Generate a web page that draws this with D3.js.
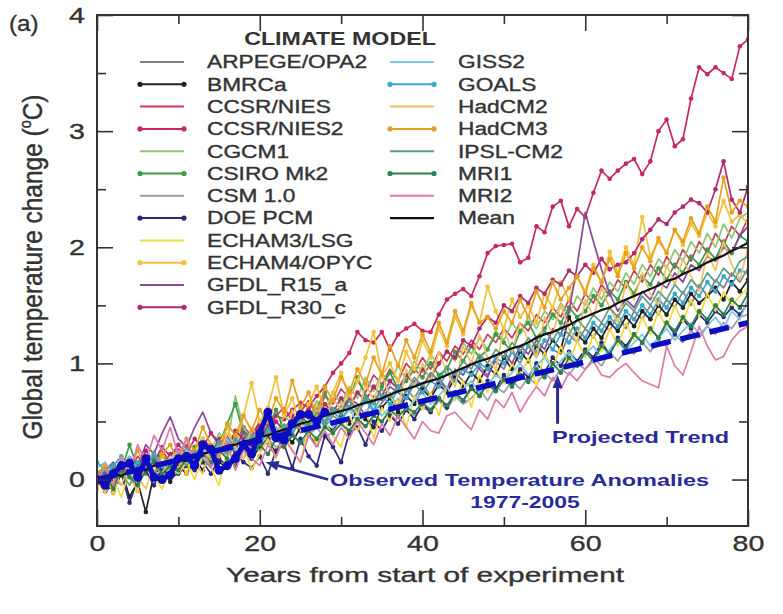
<!DOCTYPE html>
<html>
<head>
<meta charset="utf-8">
<script src="https://cdn.jsdelivr.net/npm/d3@7"></script>
<style>
  body { margin: 0; background: #fff; }
  text { stroke-width: 0.35px; }
</style>
</head>
<body>
<div id="chart"></div>
<script>
// years from start of experiment
var years = d3.range(0, 81);

var modelNames = ["ARPEGE/OPA2", "BMRCa", "CCSR/NIES", "CCSR/NIES2", "CGCM1", "CSIRO Mk2",
  "CSM 1.0", "DOE PCM", "ECHAM3/LSG", "ECHAM4/OPYC", "GFDL_R15_a", "GFDL_R30_c",
  "GISS2", "GOALS", "HadCM2", "HadCM3", "IPSL-CM2", "MRI1", "MRI2", "Mean"];
var modelColors = ["#8a7d85", "#222222", "#d23a5c", "#c8285a", "#8cc870", "#3c9a48",
  "#a09aaa", "#2c2a78", "#eedc3a", "#f2c23a", "#8a4a9a", "#b02a70",
  "#78c8e8", "#3aa8c8", "#f2c060", "#e8a020", "#5aa088", "#2a8050", "#e07aa8", "#111111"];
var modelMarkers = [false, true, false, true, false, true, false, true, false, true, false, true,
  false, true, false, true, false, true, false, false];

var arpege = [0.05,-0.08,0.10,0.02,0.15,-0.02,0.12,0.20,0.05,0.18,
  0.10,0.25,0.15,0.30,0.18,0.35,0.22,0.28,0.40,0.25,
  0.38,0.30,0.45,0.35,0.52,0.40,0.48,0.58,0.45,0.55,
  0.50,0.62,0.55,0.70,0.58,0.66,0.75,0.60,0.78,0.70,
  0.82,0.72,0.88,0.78,0.92,0.85,0.80,0.98,0.90,1.02,
  0.95,1.10,1.00,1.15,1.05,1.20,1.12,1.08,1.25,1.18,
  1.30,1.22,1.35,1.28,1.42,1.30,1.45,1.38,1.50,1.42,
  1.55,1.48,1.62,1.50,1.68,1.58,1.72,1.65,1.78,1.70,1.82];
var bmrca = [0.00,-0.10,-0.05,0.08,-0.15,-0.02,-0.28,0.05,0.10,-0.02,
  0.12,0.05,0.18,0.08,0.22,0.15,0.10,0.25,0.30,0.18,
  0.28,0.35,0.22,0.40,0.32,0.45,0.38,0.30,0.48,0.42,
  0.55,0.48,0.60,0.52,0.45,0.62,0.70,0.58,0.72,0.65,
  0.78,0.70,0.82,0.75,0.88,0.80,0.92,0.85,0.98,0.90,
  1.05,0.95,1.10,1.02,1.15,1.08,1.20,1.12,1.40,1.25,
  1.18,1.30,1.22,1.35,1.28,1.40,1.32,1.45,1.38,1.50,
  1.42,1.55,1.48,1.60,1.52,1.58,1.65,1.55,1.70,1.62,1.72];
var ccsr = [0.02,0.10,-0.05,0.15,0.08,0.20,0.12,0.05,0.25,0.15,
  0.22,0.30,0.18,0.35,0.28,0.20,0.38,0.32,0.45,0.36,
  0.48,0.40,0.55,0.62,0.50,0.58,0.68,0.55,0.72,0.65,
  0.78,0.70,0.85,0.75,0.90,0.82,0.95,0.85,1.00,0.92,
  1.05,0.95,1.10,1.02,1.15,1.08,1.20,1.12,1.25,1.18,
  1.30,1.22,1.35,1.28,1.42,1.35,1.48,1.40,1.55,1.45,
  1.60,1.52,1.68,1.58,1.72,1.65,1.80,1.70,1.85,1.76,
  1.92,1.82,1.98,1.88,2.05,1.95,2.12,2.02,2.18,2.10,2.25];
var ccsr2 = [0.02,-0.05,0.10,0.05,0.15,0.12,0.20,0.18,0.10,0.22,
  0.25,0.18,0.28,0.30,0.22,0.35,0.32,0.40,0.45,0.38,
  0.50,0.48,0.55,0.52,0.60,0.66,0.62,0.72,0.80,0.92,
  1.00,1.09,1.27,1.20,1.18,1.27,1.12,1.25,1.30,1.34,
  1.28,1.27,1.42,1.55,1.60,1.64,1.58,1.75,1.95,2.01,
  2.02,2.03,1.87,1.91,2.18,2.13,2.35,2.40,2.18,2.33,
  2.26,2.47,2.66,2.59,2.66,2.72,2.76,2.63,2.74,3.00,
  3.10,2.87,2.93,3.28,3.55,3.49,3.55,3.50,3.45,3.73,3.79];
var cgcm1 = [-0.05,0.05,0.10,0.02,0.18,0.08,0.12,0.25,0.10,0.20,
  0.15,0.28,0.20,0.32,0.25,0.40,0.30,0.72,0.45,0.35,
  0.42,0.50,0.38,0.55,0.48,0.62,0.52,0.68,0.58,0.75,
  0.65,0.80,0.70,0.88,0.76,0.92,0.82,0.98,0.86,1.02,
  0.92,1.08,0.98,1.12,1.02,1.18,1.08,1.22,1.12,1.28,
  1.20,1.35,1.25,1.40,1.30,1.45,1.38,1.52,1.42,1.58,
  1.50,1.65,1.55,1.70,1.62,1.78,1.68,1.85,1.75,1.90,
  1.82,1.98,1.88,2.05,1.95,2.12,2.00,2.20,2.08,2.25,2.30];
var csiro = [0.05,0.12,-0.02,0.08,0.30,0.10,0.05,0.18,0.22,0.12,
  0.20,0.15,0.28,0.35,0.22,0.30,0.48,0.65,0.40,0.32,
  0.38,0.45,0.60,0.42,0.50,0.55,0.48,0.62,0.75,0.58,
  0.62,0.70,0.88,0.72,0.65,0.80,0.92,0.78,0.85,0.95,
  0.88,1.00,0.90,0.95,1.10,1.02,1.15,1.05,1.12,1.25,
  1.18,1.10,1.28,1.35,1.22,1.30,1.42,1.35,1.48,1.40,
  1.45,1.58,1.50,1.62,1.55,1.70,1.60,1.75,1.68,1.82,
  1.72,1.85,1.78,1.92,1.85,1.98,1.90,2.05,1.95,2.10,2.05];
var csm = [0.00,0.08,0.02,-0.05,0.10,0.05,0.15,0.08,0.02,0.12,
  0.18,0.10,0.15,0.22,0.12,0.25,0.20,0.28,0.18,0.30,
  0.25,0.35,0.28,0.32,0.40,0.30,0.38,0.45,0.35,0.42,
  0.48,0.40,0.52,0.45,0.55,0.50,0.58,0.48,0.60,0.55,
  0.62,0.58,0.68,0.60,0.72,0.65,0.70,0.78,0.68,0.80,
  0.75,0.85,0.78,0.88,0.82,0.92,0.85,0.95,0.90,1.00,
  0.95,1.05,0.98,1.10,1.02,1.12,1.08,1.18,1.10,1.20,
  1.15,1.25,1.18,1.28,1.22,1.32,1.25,1.35,1.30,1.40,1.42];
var doepcm = [-0.05,0.02,-0.10,0.05,-0.20,0.00,0.08,-0.05,0.10,0.02,
  0.05,0.12,0.08,0.15,0.05,0.18,0.12,0.22,0.15,0.10,
  0.20,0.05,0.25,0.30,0.10,0.35,0.20,0.12,0.38,0.28,
  0.15,0.40,0.45,0.30,0.50,0.42,0.55,0.48,0.60,0.52,
  0.65,0.58,0.70,0.62,0.75,0.68,0.80,0.72,0.85,0.78,
  0.90,0.82,0.95,0.88,1.00,0.92,1.05,0.98,1.10,1.02,
  1.12,1.05,1.18,1.08,1.22,1.15,1.25,1.18,1.30,1.22,
  1.35,1.25,1.38,1.30,1.42,1.35,1.45,1.40,1.48,1.42,1.52];
var echam3 = [0.05,-0.10,0.00,-0.15,0.08,-0.05,0.12,0.02,-0.08,0.10,
  0.05,0.15,0.00,0.20,0.10,-0.05,0.25,0.15,0.30,0.08,
  0.22,0.35,0.18,0.40,0.25,0.15,0.45,0.30,0.50,0.38,
  0.28,0.55,0.42,0.60,0.35,0.62,0.50,0.68,0.45,0.72,
  0.60,0.75,0.55,0.80,0.68,0.85,0.62,0.90,0.75,0.95,
  0.82,1.00,0.88,1.05,0.80,1.10,0.95,1.15,1.00,1.20,
  1.05,1.25,1.10,1.30,1.15,1.35,1.20,1.40,1.25,1.45,
  1.30,1.50,1.35,1.55,1.40,1.60,1.45,1.62,1.50,1.58,1.65];
var echam4 = [-0.08,0.05,-0.12,0.10,0.02,-0.10,0.15,0.05,0.20,0.10,
  0.18,0.05,0.25,0.35,0.15,0.30,0.45,0.28,0.55,0.83,
  0.50,0.62,0.88,0.55,0.70,0.45,0.65,0.80,0.60,0.75,
  0.92,0.70,0.85,1.05,1.27,0.90,1.00,0.85,1.10,0.95,
  1.20,1.05,1.30,1.15,1.40,1.25,1.50,1.35,1.66,1.45,
  1.30,1.55,1.40,1.50,1.35,1.60,1.48,1.70,1.55,1.75,
  1.62,1.85,1.70,1.96,1.78,2.00,1.85,2.26,1.92,2.05,
  1.95,2.15,2.02,2.20,2.10,2.30,2.18,2.40,2.22,2.28,2.20];
var gfdl15 = [0.00,0.08,0.15,0.05,0.20,0.12,0.30,0.22,0.40,0.54,
  0.35,0.28,0.45,0.58,0.40,0.30,0.38,0.25,0.42,0.35,
  0.30,0.48,0.40,0.35,0.52,0.45,0.38,0.55,0.50,0.62,
  0.58,0.70,0.65,0.55,0.72,0.68,0.80,0.75,0.70,0.85,
  0.80,0.92,0.85,0.78,0.95,0.90,1.02,0.95,0.88,1.05,
  1.10,1.00,1.15,1.08,1.20,1.12,1.30,1.25,1.45,1.84,
  2.30,2.05,1.81,1.60,1.45,1.55,1.48,1.62,1.55,1.70,
  1.65,1.78,1.70,1.85,1.80,1.92,1.88,2.00,1.95,2.10,2.18];
var gfdl30 = [0.02,-0.05,0.10,0.05,0.18,0.08,0.25,0.15,0.28,0.20,
  0.30,0.22,0.35,0.28,0.40,0.32,0.25,0.42,0.35,0.30,
  0.45,0.38,0.50,0.42,0.55,0.48,0.60,0.52,0.65,0.58,
  0.70,0.62,0.75,0.68,0.80,0.72,0.85,0.78,0.90,0.82,
  0.95,0.88,1.00,1.10,1.05,1.20,1.15,1.30,1.40,1.35,
  1.50,1.45,1.58,1.52,1.65,1.60,1.72,1.68,1.80,1.75,
  1.85,1.78,1.90,1.81,1.85,1.87,1.95,2.07,2.15,2.24,
  2.20,2.30,2.35,2.41,2.38,2.30,2.50,2.74,2.41,2.30,2.52];
var giss2 = [0.10,0.15,0.05,0.12,0.20,0.08,0.15,0.22,0.10,0.18,
  0.25,0.15,0.22,0.30,0.20,0.28,0.35,0.25,0.32,0.40,
  0.30,0.38,0.45,0.35,0.42,0.50,0.40,0.48,0.55,0.45,
  0.52,0.60,0.50,0.58,0.65,0.55,0.62,0.70,0.60,0.68,
  0.75,0.65,0.72,0.80,0.70,0.78,0.85,0.75,0.82,0.90,
  0.85,0.92,1.00,0.90,0.98,1.05,0.95,1.02,1.10,1.00,
  1.08,1.15,1.05,1.12,1.20,1.10,1.18,1.25,1.15,1.22,
  1.30,1.20,1.28,1.35,1.25,1.32,1.40,1.30,1.45,1.38,1.55];
var goals = [0.15,0.08,0.12,0.20,0.05,0.15,0.10,0.22,0.12,0.18,
  0.15,0.25,0.18,0.28,0.22,0.32,0.25,0.35,0.30,0.38,
  0.32,0.42,0.38,0.45,0.40,0.50,0.44,0.55,0.48,0.58,
  0.52,0.62,0.58,0.68,0.60,0.72,0.65,0.78,0.70,0.82,
  0.75,0.85,0.80,0.92,0.85,0.95,0.90,1.00,0.95,1.05,
  1.00,1.10,1.05,1.15,1.10,1.20,1.12,1.25,1.18,1.30,
  1.22,1.35,1.28,1.40,1.32,1.45,1.38,1.50,1.42,1.55,
  1.48,1.60,1.52,1.65,1.58,1.70,1.62,1.75,1.68,1.80,1.78];
var hadcm2 = [0.00,-0.12,0.08,-0.05,0.15,0.02,-0.08,0.12,0.05,0.20,
  0.10,0.25,0.15,0.05,0.30,0.20,0.40,0.28,0.18,0.45,
  0.35,0.55,0.40,0.30,0.60,0.48,0.38,0.65,0.52,0.70,
  0.60,0.78,0.55,0.82,0.68,0.90,0.72,0.62,0.95,0.80,
  1.00,0.85,1.10,0.92,0.80,1.15,1.00,1.25,1.05,0.95,
  1.30,1.10,1.35,1.20,1.05,1.40,1.25,1.50,1.30,1.18,
  1.55,1.40,1.65,1.48,1.35,1.70,1.55,1.78,1.60,1.50,
  1.85,1.68,1.90,1.75,1.62,1.95,1.80,2.05,1.85,1.72,2.00];
var hadcm3 = [0.05,0.12,-0.05,0.18,0.08,0.25,0.10,0.02,0.22,0.30,
  0.15,0.35,0.25,0.45,0.30,0.20,0.48,0.38,0.55,0.42,
  0.60,0.50,0.70,0.58,0.85,0.62,0.75,0.55,0.80,0.68,
  0.88,0.75,0.95,0.82,1.05,0.90,1.15,0.98,1.20,1.05,
  1.25,1.10,1.35,1.18,1.45,1.28,1.52,1.35,1.40,1.30,
  1.45,1.35,1.55,1.40,1.62,1.48,1.70,1.55,1.65,1.75,
  1.60,1.82,1.70,1.90,1.75,1.95,1.82,2.00,1.88,2.08,
  1.95,2.15,2.05,2.25,2.12,2.35,2.22,2.60,2.30,2.40,2.35];
var ipsl = [0.08,0.00,0.12,0.05,-0.05,0.10,0.18,0.05,0.15,0.08,
  0.20,0.12,0.25,0.18,0.10,0.28,0.22,0.35,0.25,0.38,
  0.30,0.42,0.35,0.48,0.40,0.52,0.45,0.58,0.50,0.62,
  0.55,0.68,0.60,0.72,0.65,0.78,0.70,0.82,0.75,0.88,
  0.80,0.92,0.85,0.98,0.90,1.02,0.95,1.08,1.00,1.12,
  1.05,1.18,1.10,1.22,1.15,1.28,1.20,1.32,1.25,1.38,
  1.30,1.42,1.35,1.48,1.40,1.52,1.45,1.58,1.50,1.62,
  1.55,1.68,1.60,1.72,1.65,1.78,1.70,1.82,1.75,1.88,1.92];
var mri1 = [0.00,0.05,-0.08,0.10,0.02,-0.05,0.08,0.15,0.05,0.12,
  0.08,0.18,0.10,0.22,0.15,0.25,0.18,0.12,0.28,0.20,
  0.30,0.22,0.35,0.28,0.38,0.32,0.42,0.35,0.45,0.40,
  0.48,0.42,0.52,0.46,0.55,0.50,0.60,0.54,0.62,0.58,
  0.66,0.60,0.70,0.64,0.74,0.68,0.78,0.72,0.82,0.76,
  0.86,0.80,0.90,0.84,0.95,0.88,1.00,0.92,1.05,0.98,
  1.10,1.02,1.15,1.08,1.20,1.12,1.25,1.18,1.30,1.22,
  1.35,1.28,1.40,1.32,1.45,1.38,1.50,1.42,1.55,1.48,1.60];
var mri2 = [0.00,0.10,-0.05,0.20,0.05,0.30,0.15,0.38,0.25,0.45,
  0.20,0.35,0.15,0.28,0.10,0.22,0.32,0.08,0.25,0.18,
  0.12,0.30,0.20,0.35,0.25,0.15,0.38,0.28,0.42,0.30,
  0.45,0.35,0.50,0.40,0.30,0.48,0.38,0.55,0.45,0.35,
  0.50,0.42,0.40,0.55,0.58,0.50,0.43,0.60,0.52,0.69,
  0.62,0.75,0.58,0.70,0.80,0.72,0.88,0.78,0.92,0.85,
  0.95,1.02,0.90,0.88,0.95,1.00,0.92,0.85,0.82,0.79,
  1.15,0.98,0.90,1.10,1.32,1.15,1.03,1.06,1.20,1.28,1.32];
var meanVals = [0.00,0.02,0.05,0.03,0.07,0.09,0.08,0.12,0.13,0.15,
  0.17,0.16,0.20,0.22,0.24,0.26,0.29,0.30,0.33,0.34,
  0.37,0.38,0.41,0.43,0.45,0.48,0.50,0.53,0.55,0.57,
  0.59,0.61,0.64,0.66,0.68,0.70,0.73,0.76,0.78,0.80,
  0.83,0.85,0.87,0.90,0.93,0.96,0.99,1.02,1.04,1.07,
  1.10,1.13,1.15,1.18,1.22,1.25,1.27,1.30,1.33,1.37,
  1.40,1.43,1.46,1.48,1.52,1.55,1.58,1.61,1.64,1.67,
  1.71,1.73,1.77,1.80,1.83,1.87,1.90,1.93,1.97,2.00,2.04];

// observed anomalies 1977-2005 (years 0..28)
var obsYears = d3.range(0, 29);
var obsVals = [0.00,-0.05,0.05,0.12,0.14,0.02,0.18,0.02,0.00,0.04,
  0.18,0.20,0.12,0.30,0.26,0.08,0.12,0.18,0.30,0.22,
  0.40,0.58,0.36,0.34,0.48,0.56,0.56,0.50,0.58];

// projected trend end points
var trendYears = [0, 80];
var trendVals = [0, 1.35];

var modelSeries = [arpege, bmrca, ccsr, ccsr2, cgcm1, csiro, csm, doepcm, echam3, echam4,
  gfdl15, gfdl30, giss2, goals, hadcm2, hadcm3, ipsl, mri1, mri2, meanVals];

var W = 783, H = 614;
var ink = "#333333", blue = "#0c0cc4", noteBlue = "#2a2a9c";

var svg = d3.select("#chart").append("svg")
    .attr("width", W).attr("height", H)
    .style("font-family", "'Liberation Sans', Arial, Helvetica, sans-serif");
svg.append("rect").attr("width", W).attr("height", H).attr("fill", "#fff");

var x = d3.scaleLinear().domain([0, 80]).range([97, 748]);
var y = d3.scaleLinear().domain([-0.4, 4]).range([526, 15]);

// horizontally widened text, as in the original figure
function wide(g, tx, ty, k, str) {
  return g.append("text")
    .attr("transform", "translate(" + tx + "," + ty + ") scale(" + k + ",1)")
    .text(str);
}

svg.append("clipPath").attr("id", "plotclip")
  .append("rect").attr("x", 97).attr("y", 15).attr("width", 651).attr("height", 511);

var plot = svg.append("g").attr("clip-path", "url(#plotclip)");

var line = d3.line()
    .x(function(d, i) { return x(years[i]); })
    .y(function(d) { return y(d); });

modelSeries.forEach(function(vals, m) {
  if (m === 19) return;
  plot.append("path")
    .attr("d", line(vals))
    .attr("fill", "none")
    .attr("stroke", modelColors[m])
    .attr("stroke-width", 1.7)
    .attr("stroke-linejoin", "round");
  if (modelMarkers[m]) {
    plot.selectAll(null).data(vals).enter().append("circle")
      .attr("cx", function(d, i) { return x(years[i]); })
      .attr("cy", function(d) { return y(d); })
      .attr("r", 2.3)
      .attr("fill", modelColors[m]);
  }
});

// mean
plot.append("path")
  .attr("d", line(meanVals))
  .attr("fill", "none")
  .attr("stroke", modelColors[19])
  .attr("stroke-width", 2.2);

// observed
var obsLine = d3.line()
    .x(function(d, i) { return x(obsYears[i]); })
    .y(function(d) { return y(d); });
plot.append("path")
  .attr("d", obsLine(obsVals))
  .attr("fill", "none")
  .attr("stroke", blue)
  .attr("stroke-width", 5)
  .attr("stroke-linejoin", "round");
plot.selectAll(null).data(obsVals).enter().append("circle")
  .attr("cx", function(d, i) { return x(obsYears[i]); })
  .attr("cy", function(d) { return y(d); })
  .attr("r", 4.5)
  .attr("fill", blue);

// projected trend
plot.append("line")
  .attr("x1", x(trendYears[0])).attr("y1", y(trendVals[0]))
  .attr("x2", x(trendYears[1])).attr("y2", y(trendVals[1]))
  .attr("stroke", blue)
  .attr("stroke-width", 5.5)
  .attr("stroke-dasharray", "20,10");

// axes
function styleAxis(g) {
  g.attr("font-family", null);
  g.select(".domain").remove();
  g.selectAll(".tick line").attr("stroke", ink).attr("stroke-width", 1.6);
}
var k = 1.3;
svg.append("g").attr("transform", "translate(0,526)")
  .call(d3.axisBottom(x).tickValues([0, 20, 40, 60, 80]).tickFormat(d3.format("d"))
    .tickSizeInner(-16).tickSizeOuter(0).tickPadding(9))
  .call(styleAxis)
  .selectAll("text").attr("font-size", 22).attr("fill", ink).attr("stroke", ink)
  .attr("transform", "scale(" + k + ",1)");
svg.append("g").attr("transform", "translate(0,526)")
  .call(d3.axisBottom(x).tickValues([10, 30, 50, 70]).tickSize(-9).tickFormat(""))
  .call(styleAxis);
svg.append("g").attr("transform", "translate(0,15)")
  .call(d3.axisTop(x).tickValues([0, 20, 40, 60, 80]).tickSize(-16).tickFormat(""))
  .call(styleAxis);
svg.append("g").attr("transform", "translate(0,15)")
  .call(d3.axisTop(x).tickValues([10, 30, 50, 70]).tickSize(-9).tickFormat(""))
  .call(styleAxis);
svg.append("g").attr("transform", "translate(97,0)")
  .call(d3.axisLeft(y).tickValues([0, 1, 2, 3, 4]).tickFormat(d3.format("d"))
    .tickSizeInner(-16).tickSizeOuter(0).tickPadding(12))
  .call(styleAxis)
  .selectAll("text").attr("font-size", 22).attr("fill", ink).attr("stroke", ink)
  .attr("x", -12 / k).attr("transform", "scale(" + k + ",1)");
svg.append("g").attr("transform", "translate(97,0)")
  .call(d3.axisLeft(y).tickValues([0.5, 1.5, 2.5, 3.5]).tickSize(-9).tickFormat(""))
  .call(styleAxis);
svg.append("g").attr("transform", "translate(748,0)")
  .call(d3.axisRight(y).tickValues([0, 1, 2, 3, 4]).tickSize(-16).tickFormat(""))
  .call(styleAxis);
svg.append("g").attr("transform", "translate(748,0)")
  .call(d3.axisRight(y).tickValues([0.5, 1.5, 2.5, 3.5]).tickSize(-9).tickFormat(""))
  .call(styleAxis);

svg.append("rect")
  .attr("x", 97).attr("y", 15).attr("width", 651).attr("height", 511)
  .attr("fill", "none").attr("stroke", ink).attr("stroke-width", 2);

// axis titles
wide(svg, 425, 582, 1.42, "Years from start of experiment")
  .attr("text-anchor", "middle").attr("font-size", 21).attr("fill", ink).attr("stroke", ink);

var yt = svg.append("text")
  .attr("transform", "translate(42,267) scale(1.25,1) rotate(-90)")
  .attr("text-anchor", "middle").attr("font-size", 22).attr("fill", ink).attr("stroke", ink)
  .attr("textLength", 345).attr("lengthAdjust", "spacingAndGlyphs");
yt.append("tspan").text("Global temperature change (");
yt.append("tspan").attr("font-size", 13).attr("dy", -9).text("o");
yt.append("tspan").attr("dy", 9).text("C)");

wide(svg, 9, 31, 1.1, "(a)").attr("font-size", 22).attr("fill", ink).attr("stroke", ink);

// legend
var legend = svg.append("g");
wide(legend, 340, 45, 1.29, "CLIMATE MODEL")
  .attr("text-anchor", "middle").attr("font-size", 18).attr("font-weight", "bold").attr("fill", ink);

modelNames.forEach(function(name, m) {
  var col = m < 12 ? 0 : 1;
  var row = m < 12 ? m : m - 12;
  var ly = 62 + row * 22.3;
  var lx0 = col === 0 ? 140 : 390;
  var lx1 = lx0 + 44;
  var tx = col === 0 ? 207 : 458;
  legend.append("line")
    .attr("x1", lx0).attr("x2", lx1).attr("y1", ly).attr("y2", ly)
    .attr("stroke", modelColors[m]).attr("stroke-width", m === 19 ? 2.4 : 2);
  if (modelMarkers[m]) {
    [lx0, lx1].forEach(function(cx) {
      legend.append("circle").attr("cx", cx).attr("cy", ly).attr("r", 2.6).attr("fill", modelColors[m]);
    });
  }
  wide(legend, tx, ly + 6.3, 1.3, name).attr("font-size", 17.5).attr("fill", ink).attr("stroke", ink);
});

// annotations
var notes = svg.append("g").attr("fill", noteBlue);
wide(notes, 552, 443, 1.38, "Projected Trend").attr("font-size", 17).attr("font-weight", "bold");
wide(notes, 330, 486, 1.38, "Observed Temperature Anomalies").attr("font-size", 17).attr("font-weight", "bold");
wide(notes, 525, 508, 1.35, "1977-2005").attr("font-size", 17).attr("font-weight", "bold").attr("text-anchor", "middle");

// projected trend arrow
var ax = x(56.6);
notes.append("line")
  .attr("x1", ax).attr("x2", ax).attr("y1", y(0.48)).attr("y2", y(0.8))
  .attr("stroke", noteBlue).attr("stroke-width", 3);
notes.append("path")
  .attr("d", "M" + ax + "," + y(0.9) + "L" + (ax - 5) + "," + (y(0.9) + 13) + "L" + (ax + 5) + "," + (y(0.9) + 13) + "Z");

// observed pointer
var p0 = [x(28.4), y(0.0)], p1 = [x(21.2), y(0.14)];
notes.append("line")
  .attr("x1", p0[0]).attr("y1", p0[1]).attr("x2", p1[0]).attr("y2", p1[1])
  .attr("stroke", noteBlue).attr("stroke-width", 2.5);
var ang = Math.atan2(p1[1] - p0[1], p1[0] - p0[0]);
notes.append("path")
  .attr("transform", "translate(" + p1[0] + "," + p1[1] + ") rotate(" + (ang * 180 / Math.PI) + ")")
  .attr("d", "M4,0L-9,-5L-9,5Z");
</script>
</body>
</html>
